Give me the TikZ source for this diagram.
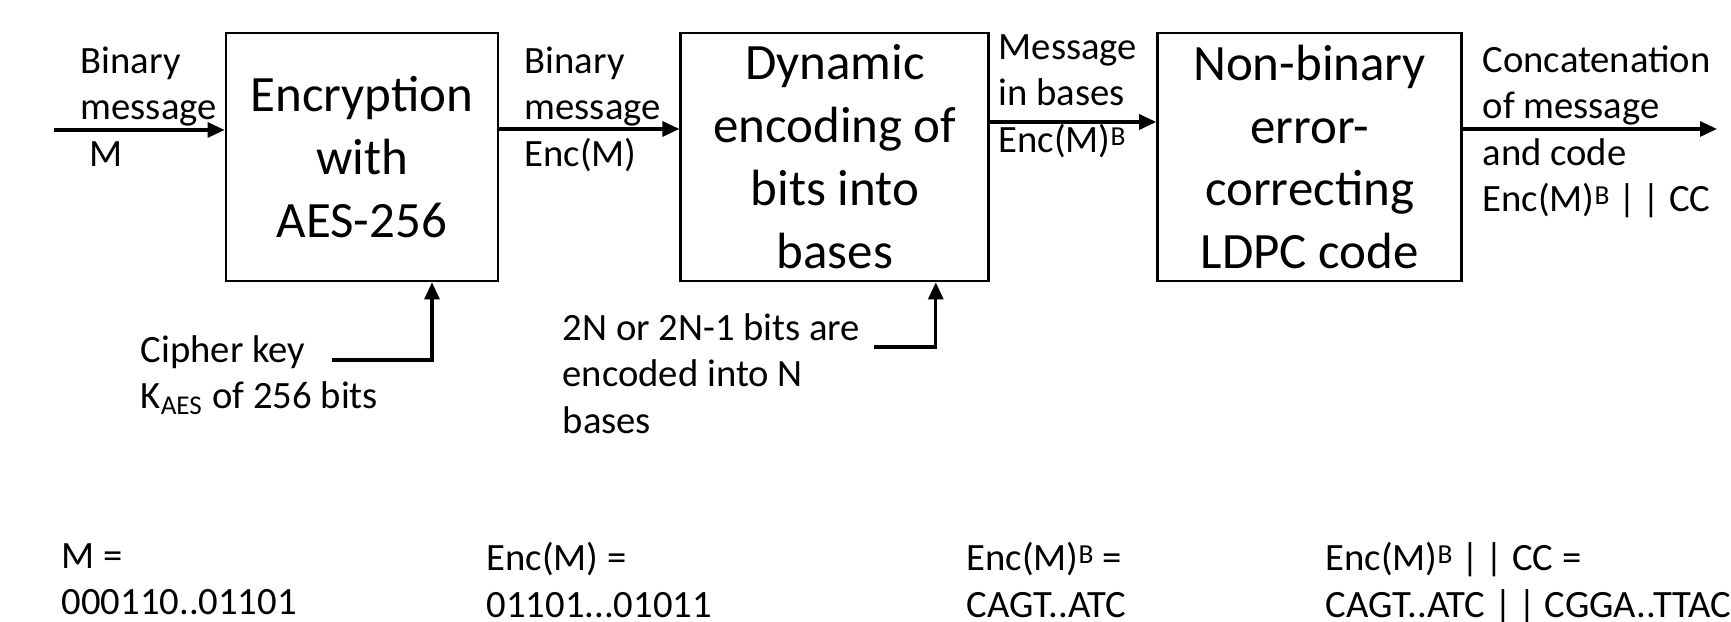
\documentclass[tikz,border=0pt]{standalone}
\usepackage{fontspec}
\setmainfont{Carlito}
\usetikzlibrary{arrows.meta,positioning}

\newcommand\supB{\raisebox{2pt}{\fontsize{7.8}{8}\selectfont B}}

\tikzset{
  stage/.style={draw,line width=0.8pt,inner sep=0pt,minimum width=#1,minimum height=2.48cm,
    align=center,font=\fontsize{14.5}{17.9}\selectfont},
  lab/.style={anchor=north west,inner sep=0pt,align=left,font=\fontsize{11}{13.2}\selectfont},
  flow/.style={-{Triangle[length=0.17cm,width=0.15cm]},line width=0.9pt}
}

\begin{document}
\begin{tikzpicture}[line cap=butt,line join=miter]
  \useasboundingbox (0,0) rectangle (17.31,-6.22);

  \node[stage=2.72cm] (enc) at (3.62,-1.57) {Encryption\\with\\AES-256};
  \node[stage=3.08cm, right=1.80cm of enc] (dyn) {Dynamic\\encoding of\\bits into\\bases};
  \node[stage=3.04cm, right=1.66cm of dyn] (ldpc) {Non-binary\\error-\\correcting\\LDPC code};

  \coordinate (msgin) at (0.54,-1.30);
  \coordinate (msgout) at (17.17,-1.29);
  \coordinate (keyend) at (3.32,-3.60);
  \coordinate (bitsend) at (8.74,-3.47);

  \draw[flow] (msgin) -- (msgin -| enc.west);
  \draw[flow] ([yshift=0.28cm]enc.east) -- ([yshift=0.28cm]dyn.west);
  \draw[flow] ([yshift=0.35cm]dyn.east) -- ([yshift=0.35cm]ldpc.west);
  \draw[flow] (ldpc.east |- msgout) -- (msgout);
  \draw[flow] (keyend) -| ([xshift=0.70cm]enc.south);
  \draw[flow] (bitsend) -| ([xshift=1.01cm]dyn.south);

  \node[lab] (inlab) at (0.80,-0.46) {Binary\\message\\\hspace{0.09cm}M};
  \node[lab] (enclab) at (5.24,-0.46) {Binary\\message\\Enc(M)};
  \node[lab] (baselab) at (9.98,-0.34) {Message\\in bases\\Enc(M)\supB};
  \node[lab] (outlab) at (14.82,-0.45) {Concatenation\\of message\\and code\\Enc(M)\supB\ |\,| CC};
  \node[lab] (keylab) at (1.40,-3.35) {Cipher key\\K\textsubscript{AES} of 256 bits};
  \node[lab] (bitslab) at (5.62,-3.13) {2N or 2N-1 bits are\\encoded into N\\bases};

  \node[lab] (mval) at (0.61,-5.43) {M =\\000110..01101};
  \node[lab] (encval) at (4.86,-5.42) {Enc(M) =\\01101...01011};
  \node[lab] (baseval) at (9.66,-5.42) {Enc(M)\supB\ =\\CAGT..ATC};
  \node[lab] (outval) at (13.25,-5.42) {Enc(M)\supB\ |\,| CC =\\CAGT..ATC |\,| CGGA..TTAC};
\end{tikzpicture}
\end{document}
